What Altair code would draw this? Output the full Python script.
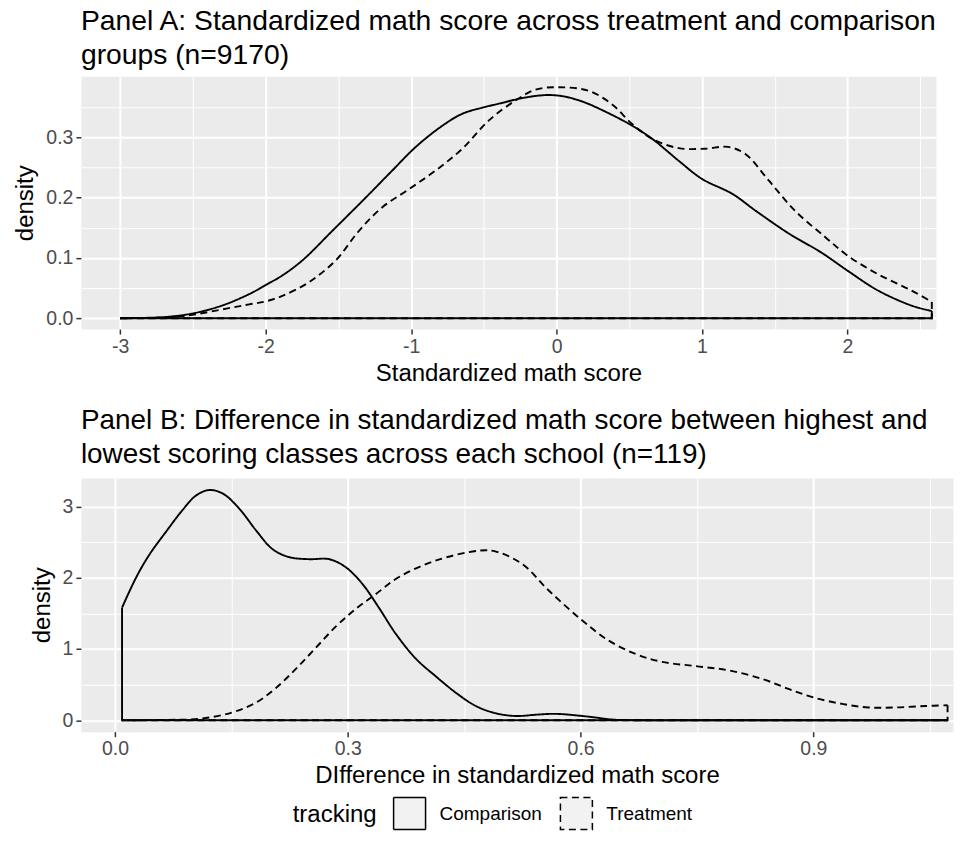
import altair as alt
import pandas as pd

tracking = ["Comparison", "Treatment"]

# Panel A: standardized math score densities
a_x_comp = [-3.0, -2.85, -2.69, -2.5, -2.3, -2.113, -2.0, -1.885, -1.747, -1.541, -1.312, -1.129, -0.968,
            -0.786, -0.648, -0.511, -0.374, -0.236, -0.076, 0.016, 0.084, 0.18, 0.27, 0.5, 0.66, 0.84, 1.0, 1.21,
            1.37, 1.6, 1.82, 2.0, 2.21, 2.44, 2.58]
a_d_comp = [0.0, 0.0005, 0.002, 0.008, 0.021, 0.040, 0.055, 0.071, 0.096, 0.145, 0.200, 0.245, 0.284,
            0.319, 0.339, 0.349, 0.357, 0.365, 0.370, 0.369, 0.366, 0.359, 0.350, 0.322, 0.297, 0.261, 0.231, 0.206,
            0.178, 0.140, 0.109, 0.079, 0.046, 0.021, 0.012]
a_x_trt = [-3.0, -2.75, -2.55, -2.27, -2.113, -2.0, -1.885, -1.701, -1.518, -1.358, -1.198, -1.014, -0.831,
           -0.648, -0.465, -0.282, -0.144, 0.016, 0.22, 0.38, 0.52, 0.66, 0.84, 1.02, 1.18, 1.30, 1.46, 1.64,
           1.85, 2.0, 2.21, 2.44, 2.58]
a_d_trt = [0.0, 0.001, 0.004, 0.016, 0.023, 0.028, 0.037, 0.060, 0.096, 0.145, 0.184, 0.214, 0.245,
           0.281, 0.328, 0.361, 0.379, 0.383, 0.377, 0.355, 0.322, 0.297, 0.282, 0.281, 0.284, 0.272, 0.228, 0.178,
           0.134, 0.104, 0.073, 0.046, 0.027]

# Panel B: difference between highest and lowest scoring classes
b_x_comp = [0.009, 0.027, 0.044, 0.066, 0.087, 0.104, 0.121, 0.139, 0.160, 0.182, 0.203, 0.224, 0.250, 0.276,
            0.297, 0.319, 0.340, 0.362, 0.388, 0.413, 0.44, 0.465, 0.49, 0.516, 0.545, 0.568, 0.611, 0.641,
            0.68, 0.75, 0.85, 0.95, 1.073]
b_d_comp = [1.58, 2.0, 2.32, 2.65, 2.95, 3.15, 3.23, 3.18, 2.97, 2.66, 2.40, 2.29, 2.26, 2.26,
            2.15, 1.91, 1.58, 1.21, 0.86, 0.62, 0.38, 0.20, 0.10, 0.06, 0.08, 0.09, 0.05, 0.01,
            0.0, 0.0, 0.0, 0.0, 0.0]
b_x_trt = [0.009, 0.066, 0.109, 0.151, 0.182, 0.207, 0.233, 0.259, 0.285, 0.310, 0.336, 0.366, 0.413, 0.469,
           0.49, 0.525, 0.559, 0.6, 0.636, 0.671, 0.705, 0.748, 0.791, 0.834, 0.868, 0.9, 0.937, 0.971, 1.006,
           1.044, 1.073]
b_d_trt = [0.0, 0.005, 0.02, 0.11, 0.25, 0.45, 0.72, 1.02, 1.32, 1.56, 1.77, 2.01, 2.24, 2.38,
           2.37, 2.19, 1.82, 1.42, 1.12, 0.93, 0.82, 0.76, 0.70, 0.58, 0.44, 0.32, 0.23, 0.18, 0.18,
           0.20, 0.21]

a_x_ticks = [-3, -2.5, -2, -1.5, -1, -0.5, 0, 0.5, 1, 1.5, 2, 2.5]
a_y_ticks = [0, 0.05, 0.1, 0.15, 0.2, 0.25, 0.3, 0.35]
b_x_ticks = [0, 0.15, 0.3, 0.45, 0.6, 0.75, 0.9, 1.05]
b_y_ticks = [0, 0.5, 1, 1.5, 2, 2.5, 3]

FONT = "Liberation Sans"
TICK_FS = 19.5
AXIS_TITLE_FS = 24


def curve_df(xs, ds, group):
    return pd.DataFrame({"x": xs, "y": ds, "tracking": group})


def close_df(xs, ds, group):
    return pd.DataFrame({
        "x": [xs[-1], xs[-1], xs[0], xs[0]],
        "y": [ds[-1], 0, 0, ds[0]],
        "o": [0, 1, 2, 3],
        "tracking": group,
    })


def grid_axis(title, values, minor_test, label_expr, extent=None, pad=None):
    kw = dict(
        title=title, values=values, labelExpr=label_expr,
        gridWidth={"condition": {"test": minor_test, "value": 1}, "value": 2},
        tickOpacity={"condition": {"test": minor_test, "value": 0}, "value": 1},
        domain=False, grid=True, gridColor="white",
        tickColor="#333333", tickSize=5, tickWidth=1.5,
        labelColor="#4D4D4D", labelFontSize=TICK_FS, labelFont=FONT, labelPadding=3,
        titleFont=FONT, titleFontSize=AXIS_TITLE_FS, titleFontWeight="normal", titleColor="black",
    )
    if extent is not None:
        kw["minExtent"] = extent
        kw["maxExtent"] = extent
    if pad is not None:
        kw["titlePadding"] = pad
    return alt.Axis(**kw)


def panel(xc, dc, xt, dt, xdom, ydom, xaxis, yaxis, title, title_fs, title_off, width, height, legend):
    curves = pd.concat([curve_df(xc, dc, tracking[0]), curve_df(xt, dt, tracking[1])])
    closes = pd.concat([close_df(xc, dc, tracking[0]), close_df(xt, dt, tracking[1])])
    xenc = alt.X("x:Q", scale=alt.Scale(domain=xdom, nice=False, zero=False), axis=xaxis)
    yenc = alt.Y("y:Q", scale=alt.Scale(domain=ydom, nice=False, zero=False), axis=yaxis)
    dash_kw = dict(scale=alt.Scale(domain=tracking, range=[[1, 0], [7, 4.5]]))
    if legend is not None:
        dash_kw["legend"] = legend
    dash = alt.StrokeDash("tracking:N", **dash_kw)
    lines = alt.Chart(curves).mark_line(interpolate="catmull-rom", color="black", strokeWidth=1.9).encode(
        x=xenc, y=yenc, strokeDash=dash, detail="tracking:N")
    close = alt.Chart(closes).mark_line(color="black", strokeWidth=1.9).encode(
        x=xenc, y=yenc, strokeDash=dash, detail="tracking:N", order="o:Q")
    return alt.layer(close, lines).properties(
        width=width, height=height,
        title=alt.TitleParams(text=title, anchor="start", frame="group", font=FONT, fontSize=title_fs,
                              fontWeight="normal", color="black", lineHeight=34, offset=title_off),
    )


legend = alt.Legend(
    orient="none", legendX=212, legendY=721, direction="horizontal", titleOrient="left",
    title="tracking", symbolType="square", symbolSize=1024, symbolFillColor="#F2F2F2",
    symbolStrokeColor="black", symbolStrokeWidth=1.5, labelFont=FONT, labelFontSize=19,
    labelColor="black", titleFont=FONT, titleFontSize=24, titleFontWeight="normal",
    titleColor="black", columnPadding=15, labelOffset=13, titlePadding=15, titleBaseline="middle",
)

panel_a = panel(
    a_x_comp, a_d_comp, a_x_trt, a_d_trt,
    [-3.27, 2.609], [-0.018, 0.401],
    grid_axis("Standardized math score", a_x_ticks,
              "abs(datum.value - round(datum.value)) > 0.01",
              "abs(datum.value - round(datum.value)) > 0.01 ? '' : toString(datum.value)", pad=6),
    grid_axis("density", a_y_ticks,
              "abs(datum.value*10 - round(datum.value*10)) > 0.01",
              "abs(datum.value*10 - round(datum.value*10)) > 0.01 ? '' : format(datum.value, '.1f')",
              extent=35, pad=8),
    ["Panel A: Standardized math score across treatment and comparison", "groups (n=9170)"],
    28.3, 6, 856, 253, legend,
)

panel_b = panel(
    b_x_comp, b_d_comp, b_x_trt, b_d_trt,
    [-0.044, 1.080], [-0.16, 3.40],
    grid_axis("DIfference in standardized math score", b_x_ticks,
              "abs(datum.value/0.3 - round(datum.value/0.3)) > 0.01",
              "abs(datum.value/0.3 - round(datum.value/0.3)) > 0.01 ? '' : format(datum.value, '.1f')", pad=5),
    grid_axis("density", b_y_ticks,
              "abs(datum.value - round(datum.value)) > 0.01",
              "abs(datum.value - round(datum.value)) > 0.01 ? '' : toString(datum.value)",
              extent=18, pad=8),
    ["Panel B: Difference in standardized math score between highest and",
     "lowest scoring classes across each school (n=119)"],
    27.9, 9, 873, 254, None,
)

chart = alt.vconcat(panel_a, panel_b, spacing=20).resolve_scale(
    x="independent", y="independent", strokeDash="shared"
).properties(
    padding={"left": 5, "top": -2, "right": 0, "bottom": 0},
    background="white",
).configure_view(fill="#EBEBEB", stroke="transparent")

chart.save("out.html", embed_options={"renderer": "svg", "actions": False})
